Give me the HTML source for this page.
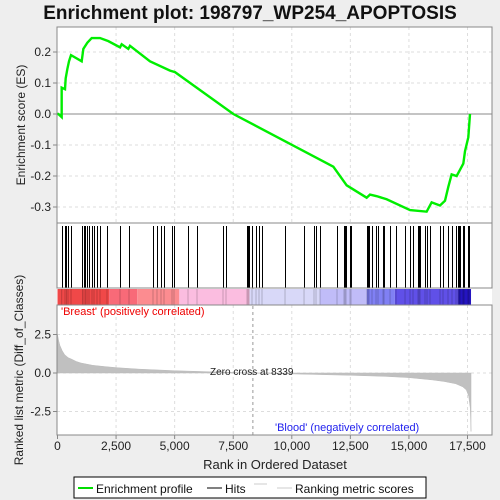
<!DOCTYPE html>
<html><head><meta charset="utf-8"><style>
body{margin:0;background:#eeeeee;}
svg{display:block;font-family:"Liberation Sans","DejaVu Sans",sans-serif;}
</style></head><body>
<svg id="chart" width="500" height="500">
<text x="250" y="19" text-anchor="middle" font-size="19" font-weight="bold" fill="#111">Enrichment plot: 198797_WP254_APOPTOSIS</text>
<rect x="57" y="27" width="435" height="408" fill="#fff"/>
<g id="grid"></g>
<g id="colorbar"></g>
<g id="metric"></g>
<g id="hits"></g>
<g id="es"></g>
<rect x="57" y="27" width="435" height="196" fill="none" stroke="#888"/>
<rect x="57" y="223" width="435" height="65" fill="none" stroke="#888"/>
<rect x="57" y="305" width="435" height="130" fill="none" stroke="#888"/>
<line x1="57" y1="288" x2="492" y2="288" stroke="#888"/>
<g id="axes" font-size="12" fill="#222"></g>
<text x="61" y="315" font-size="11" fill="#e00">'Breast' (positively correlated)</text>
<text x="275" y="431" font-size="11" fill="#22e">'Blood' (negatively correlated)</text>
<text x="210" y="375" font-size="10" fill="#222">Zero cross at 8339</text>
<text x="275" y="469" text-anchor="middle" font-size="13" fill="#222">Rank in Ordered Dataset</text>
<text transform="translate(25,125) rotate(-90)" text-anchor="middle" font-size="12" fill="#222">Enrichment score (ES)</text>
<text transform="translate(23,370) rotate(-90)" text-anchor="middle" font-size="12" fill="#222">Ranked list metric (Diff_of_Classes)</text>
<g>
<rect x="74" y="477" width="352" height="21" fill="#fff" stroke="#000"/>
<line x1="78" y1="488" x2="93" y2="488" stroke="#00dd00" stroke-width="2"/>
<text x="96" y="493" font-size="12" fill="#111">Enrichment profile</text>
<line x1="207" y1="488" x2="222" y2="488" stroke="#000"/>
<text x="225" y="493" font-size="12" fill="#111">Hits</text>
<line x1="254" y1="484" x2="267" y2="484" stroke="#ccc"/>
<line x1="277" y1="488" x2="292" y2="488" stroke="#ccc"/>
<text x="295" y="493" font-size="12" fill="#111">Ranking metric scores</text>
</g>
</svg>
<script>
const esRanks=[0,36,178,178,320,349,420,491,576,1032,1103,1273,1459,1814,2170,2668,2739,3023,3094,3948,4802,5015,7505,11773,12342,13195,13338,13622,14049,15045,15756,15969,16325,16539,16681,16823,17037,17179,17321,17393,17535,17606];
const esValues=[0,0,-0.01,0.085,0.08,0.115,0.145,0.17,0.19,0.17,0.21,0.23,0.245,0.245,0.235,0.215,0.225,0.21,0.22,0.17,0.14,0.135,0.0,-0.17,-0.23,-0.27,-0.26,-0.265,-0.275,-0.31,-0.315,-0.285,-0.295,-0.28,-0.235,-0.195,-0.2,-0.18,-0.16,-0.12,-0.075,0.0];
const hitRanks=[179,320,384,448,576,1067,1131,1195,1259,1344,1472,1558,1686,1814,2113,2668,3052,4076,4247,4418,4546,4887,4973,5570,5954,7064,7192,8088,8131,8174,8302,8473,8601,8729,9711,10522,10948,11034,11204,11930,12229,12271,12314,12485,12528,13210,13253,13296,13424,13595,13680,13894,13936,14193,14449,14833,15046,15174,15387,15430,15472,15686,15771,15899,16326,16454,16667,16838,17009,17094,17137,17180,17308,17350,17521,17564];
const metricRanks=[0,50,100,200,300,450,600,800,1000,1500,2000,2500,3500,5000,6500,8339,10000,12500,14000,15000,16000,16500,17000,17300,17450,17550,17620,17650];
const metricValues=[2.5,2.1,1.8,1.45,1.2,1.0,0.9,0.75,0.65,0.5,0.42,0.35,0.25,0.15,0.08,0,-0.06,-0.15,-0.22,-0.3,-0.45,-0.55,-0.7,-0.9,-1.1,-1.5,-2.3,-3.8];
const xTicks=[0,2500,5000,7500,10000,12500,15000,17500];
const esTicks=[0.2,0.1,0.0,-0.1,-0.2,-0.3];
const metricTicks=[2.5,0.0,-2.5];
const NS='http://www.w3.org/2000/svg';
const X=r=>57.5+r*0.023429;
const YE=v=>114-v*310;
const YM=v=>373-v*15.4;
function mk(tag,attrs,parent){const e=document.createElementNS(NS,tag);for(const k in attrs)e.setAttribute(k,attrs[k]);document.getElementById(parent).appendChild(e);return e;}
xTicks.forEach(t=>{if(t>0){const g1=mk('line',{x1:X(t),x2:X(t),y1:27,y2:223,stroke:'#ddd','stroke-dasharray':'3,3'},'grid');
mk('line',{x1:X(t),x2:X(t),y1:305,y2:435,stroke:'#ddd','stroke-dasharray':'3,3'},'grid');}});
esTicks.forEach(t=>{mk('line',{x1:57,x2:492,y1:YE(t),y2:YE(t),stroke:t===0?'#888':'#ddd','stroke-dasharray':t===0?'':'3,3'},'grid');});
metricTicks.forEach(t=>{mk('line',{x1:57,x2:492,y1:YM(t),y2:YM(t),stroke:'#ddd','stroke-dasharray':'3,3'},'grid');});
mk('line',{x1:X(8339),x2:X(8339),y1:288,y2:435,stroke:'#999','stroke-dasharray':'3,3'},'grid');
const cb=[[0,2200,'#f04848'],[2200,3400,'#f86a78'],[3400,5200,'#fc8c90'],[5200,8200,'#fbbde0'],[8200,11200,'#d8d8f8'],[11200,13200,'#c0bcf8'],[13200,14400,'#8080f4'],[14400,17100,'#6050e8'],[17100,17650,'#2414c0']];
cb.forEach(s=>{mk('rect',{x:X(s[0]),y:289,width:X(s[1])-X(s[0]),height:16,fill:s[2]},'colorbar');});
hitRanks.forEach(r=>{mk('line',{x1:X(r),x2:X(r),y1:289,y2:305,stroke:'rgba(0,0,0,0.2)'},'colorbar');});
let d='M'+X(0)+','+YM(0);
metricRanks.forEach((r,i)=>{d+=' L'+X(r)+','+YM(metricValues[i]);});
d+=' L'+X(metricRanks[metricRanks.length-1])+','+YM(0)+' Z';
const mp=mk('path',{d:d,fill:'#c0c0c0',stroke:'#bbb','stroke-width':0.5},'metric');


hitRanks.forEach(r=>{const px=Math.round(X(r))+0.5;const l=mk('line',{x1:px,x2:px,y1:226,y2:288,stroke:'#000','stroke-width':1},'hits');

});
const pts=esRanks.map((r,i)=>X(r)+','+YE(esValues[i])).join(' ');
const pl=mk('polyline',{points:pts,fill:'none',stroke:'#00ee00','stroke-width':2.4},'es');


xTicks.forEach(t=>{const tx=mk('text',{x:X(t),y:450,'text-anchor':'middle'},'axes');tx.textContent=t.toLocaleString('en-US');


mk('line',{x1:X(t),x2:X(t),y1:435,y2:439,stroke:'#888'},'axes');});
esTicks.forEach(t=>{const tx=mk('text',{x:51,y:YE(t)+4,'text-anchor':'end'},'axes');tx.textContent=t.toFixed(1);


mk('line',{x1:53,x2:57,y1:YE(t),y2:YE(t),stroke:'#888'},'axes');});
metricTicks.forEach(t=>{const tx=mk('text',{x:51,y:YM(t)+4,'text-anchor':'end'},'axes');tx.textContent=t.toFixed(1);


mk('line',{x1:53,x2:57,y1:YM(t),y2:YM(t),stroke:'#888'},'axes');});
</script>
</body></html>
